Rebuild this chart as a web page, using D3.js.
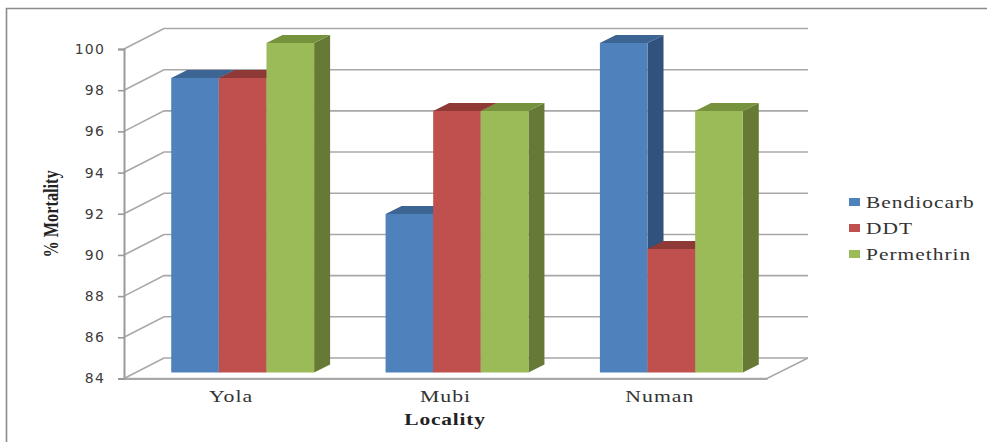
<!DOCTYPE html>
<html>
<head>
<meta charset="utf-8">
<script src="https://cdn.jsdelivr.net/npm/d3@7"></script>
<style>
html,body{margin:0;padding:0;background:#fff}
svg{display:block}
</style>
</head>
<body>
<svg id="chart" width="987" height="442"></svg>
<script>
// Mortality by locality and insecticide
const localities = ["Yola", "Mubi", "Numan"];
const insecticides = ["Bendiocarb", "DDT", "Permethrin"];
const bendiocarb = [98.3, 91.7, 100];
const ddt = [98.3, 96.7, 90];
const permethrin = [100, 96.7, 96.7];
const tickValues = [84, 86, 88, 90, 92, 94, 96, 98, 100];
const frontColors = ["#4f81bd", "#c0504d", "#9bbb59"];
const topColors = ["#3c6594", "#8f3937", "#76923c"];
const sideColors = ["#30527c", "#7d302e", "#667a36"];

const seriesValues = [bendiocarb, ddt, permethrin];
const svg = d3.select("#chart");

// Oblique projection of the plot box
const wallDx = 40, wallDy = -20.5;
const barDx = 16, barDy = -8;
const barShiftX = 11.5, barShiftY = -6;

const y = d3.scaleLinear().domain([84, 100]).range([378.5, 49]);
const x = d3.scaleBand().domain(localities).range([124, 767]);
const inner = d3.scaleBand().domain(insecticides)
  .range([0, x.bandwidth()]).paddingOuter(0.75).paddingInner(0);

const gridColor = "#a8a8a8";
const lineGen = d3.line();

// Outer chart border: top and left edges only
svg.append("path")
  .attr("d", lineGen([[6.5, 442], [6.5, 8.5], [987, 8.5]]))
  .attr("fill", "none").attr("stroke", "#8c8c8c").attr("stroke-width", 1.6);

// Back wall gridlines with their diagonal side-wall segments
const grid = svg.append("g").attr("fill", "none")
  .attr("stroke", gridColor).attr("stroke-width", 1.6);
tickValues.forEach(v => {
  const yy = y(v);
  grid.append("path").attr("d", lineGen([
    [x.range()[0], yy],
    [x.range()[0] + wallDx, yy + wallDy],
    [x.range()[1] + wallDx + 1, yy + wallDy]
  ]));
});

// Floor edge on the right
grid.append("path").attr("d", lineGen([
  [x.range()[0], y(84)],
  [x.range()[1], y(84)],
  [x.range()[1] + wallDx + 1, y(84) + wallDy]
]));

// Bars: side and top faces first, then the front so neighbours overlap correctly
const bars = svg.append("g");
localities.forEach((loc, i) => {
  insecticides.forEach((name, s) => {
    const v = seriesValues[s][i];
    const x0 = x(loc) + inner(name) + barShiftX;
    const x1 = x0 + inner.bandwidth();
    const yTop = y(v) + barShiftY;
    const yBase = y(84) + barShiftY;
    const poly = (pts, fill) => bars.append("path")
      .attr("d", lineGen(pts) + "Z").attr("fill", fill);
    poly([[x1, yTop], [x1 + barDx, yTop + barDy], [x1 + barDx, yBase + barDy], [x1, yBase]], sideColors[s]);
    poly([[x0, yTop], [x0 + barDx, yTop + barDy], [x1 + barDx, yTop + barDy], [x1, yTop]], topColors[s]);
    poly([[x0, yTop], [x1, yTop], [x1, yBase], [x0, yBase]], frontColors[s]);
  });
});

// Value axis
const yAxis = svg.append("g")
  .attr("transform", `translate(${x.range()[0]},0)`)
  .call(d3.axisLeft(y).tickValues(tickValues).tickSize(6).tickPadding(13).tickFormat(d3.format("d")));
yAxis.select(".domain").attr("stroke", "#9a9a9a").attr("stroke-width", 2);
yAxis.selectAll(".tick line").attr("stroke", "#9a9a9a").attr("stroke-width", 1.6);
yAxis.selectAll("text")
  .attr("font-family", "'DejaVu Sans'").attr("font-size", 14)
  .attr("letter-spacing", "1.2px").attr("fill", "#3c3c3c");

// Category axis, with glyphs widened horizontally
const xAxis = svg.append("g")
  .attr("transform", `translate(0,${y(84)})`)
  .call(d3.axisBottom(x).tickSize(0).tickPadding(11));
xAxis.select(".domain").attr("stroke", "#a8a8a8").attr("stroke-width", 2);
xAxis.selectAll("text")
  .attr("transform", "scale(1.28,1)")
  .attr("font-family", "'Liberation Serif'").attr("font-size", 17)
  .attr("letter-spacing", "0.8px").attr("fill", "#333");

// Axis titles
svg.append("text").text("Locality")
  .attr("transform", "translate(445,425) scale(1.34,1)").attr("text-anchor", "middle")
  .attr("font-family", "'Liberation Serif'").attr("font-weight", "bold")
  .attr("font-size", 16).attr("letter-spacing", "0.6px").attr("fill", "#222");
svg.append("text").text("% Mortality")
  .attr("transform", "translate(58,214) rotate(-90) scale(0.74,1)").attr("text-anchor", "middle")
  .attr("font-family", "'Liberation Serif'").attr("font-weight", "bold")
  .attr("font-size", 22).attr("fill", "#222");

// Legend
const legendY = d3.scalePoint().domain(insecticides).range([202, 254]);
const legend = svg.append("g").selectAll("g").data(insecticides).join("g")
  .attr("transform", d => `translate(849,${legendY(d)})`);
legend.append("rect").attr("x", 0).attr("y", -4).attr("width", 11).attr("height", 8)
  .attr("fill", (d, i) => frontColors[i]);
legend.append("text").text(d => d)
  .attr("transform", "translate(17,6) scale(1.26,1)")
  .attr("font-family", "'Liberation Serif'").attr("font-size", 17)
  .attr("letter-spacing", "0.8px").attr("fill", "#333");
</script>
</body>
</html>
